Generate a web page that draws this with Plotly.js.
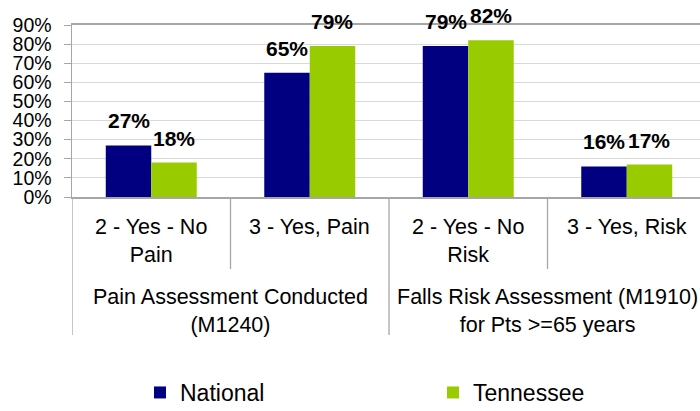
<!DOCTYPE html>
<html>
<head>
<meta charset="utf-8">
<script src="https://cdn.plot.ly/plotly-3.0.1.min.js"></script>
<style>html,body{margin:0;padding:0;background:#fff;overflow:hidden;}</style>
</head>
<body>
<div id="chart" style="width:700px;height:411px;"></div>
<script>
// ---- data ----
var groups = ["Pain Assessment Conducted<br>(M1240)", "Falls Risk Assessment (M1910)<br>for Pts >=65 years"];
var categories = ["2 - Yes - No<br>Pain", "3 - Yes, Pain", "2 - Yes - No<br>Risk", "3 - Yes, Risk"];
var groupOfCategory = [0, 0, 1, 1];
var seriesNames = ["National", "Tennessee"];
var national = [27, 65, 79, 16];
var tennessee = [18, 79, 82, 17];
var yTicks = [0, 10, 20, 30, 40, 50, 60, 70, 80, 90];

// ---- styles ----
var FONT = "'Liberation Sans', Arimo, Arial, sans-serif";
var colors = ["#000080", "#99CC00"];
var bargap = 0.426;
var series = [national, tennessee];

var xIdx = categories.map(function (c, i) { return i; });

var traces = series.map(function (vals, s) {
  return {
    type: "bar",
    name: seriesNames[s],
    x: xIdx,
    y: vals,
    marker: { color: colors[s] },
    hoverinfo: "skip"
  };
});

var annotations = [];
var barW = (1 - bargap) / series.length;
series.forEach(function (vals, s) {
  vals.forEach(function (v, i) {
    annotations.push({
      xref: "x", yref: "y",
      x: i + (s - (series.length - 1) / 2) * barW,
      y: v,
      text: "<b>" + v + "%</b>",
      showarrow: false,
      yanchor: "bottom",
      yshift: 11,
      font: { family: FONT, size: 21, color: "#000" }
    });
  });
});
// inner category labels
categories.forEach(function (c, i) {
  annotations.push({
    xref: "x", yref: "paper", x: i, y: 0, yanchor: "top", yshift: -16,
    text: c, showarrow: false, align: "center",
    font: { family: FONT, size: 21.5, color: "#000" }
  });
});
// outer group labels
groups.forEach(function (g, gi) {
  var idx = [];
  groupOfCategory.forEach(function (gg, i) { if (gg === gi) idx.push(i); });
  var center = (idx[0] + idx[idx.length - 1]) / 2;
  annotations.push({
    xref: "x", yref: "paper", x: center, y: 0, yanchor: "top", yshift: -86,
    text: g, showarrow: false, align: "center",
    font: { family: FONT, size: 21.5, color: "#000" }
  });
});

// separators
var shapes = [];
for (var i = 0; i < categories.length; i++) {
  var left = i - 0.5;
  var isGroupStart = (i === 0) || (groupOfCategory[i] !== groupOfCategory[i - 1]);
  shapes.push({
    type: "line", xref: "x", yref: "paper", ysizemode: "pixel", yanchor: 0,
    x0: left, x1: left, y0: 0, y1: isGroupStart ? -138 : -72,
    line: { color: "#a6a6a6", width: 1.3 }
  });
}

var layout = {
  width: 700, height: 411,
  margin: { l: 72, r: 0, t: 25, b: 214, pad: 0 },
  paper_bgcolor: "#fff", plot_bgcolor: "#fff",
  barmode: "group", bargap: bargap, bargroupgap: 0,
  showlegend: true,
  legend: {
    orientation: "h", xref: "container", yref: "container",
    x: 0.2, y: 0.045, xanchor: "left", yanchor: "middle",
    entrywidth: 248, entrywidthmode: "pixels",
    font: { family: FONT, size: 23, color: "#000" },
    bgcolor: "rgba(0,0,0,0)", traceorder: "normal"
  },
  xaxis: {
    type: "linear", range: [-0.5, categories.length - 0.5 - 6 / 158.5],
    showticklabels: false, showgrid: false, zeroline: false, ticks: "",
    showline: true, mirror: true, linecolor: "#a6a6a6", linewidth: 2, fixedrange: true
  },
  yaxis: {
    range: [0, 90], tickvals: yTicks, ticktext: yTicks.map(function (t) { return t + "%"; }),
    showgrid: true, gridcolor: "#d9d9d9", gridwidth: 1,
    zeroline: false, showline: true, linecolor: "#a6a6a6", linewidth: 1.5,
    ticks: "outside", ticklen: 7, tickcolor: "#a6a6a6", tickwidth: 1,
    ticklabelstandoff: 8,
    tickfont: { family: FONT, size: 19.5, color: "#000" }, fixedrange: true
  },
  annotations: annotations,
  shapes: shapes,
  font: { family: FONT }
};

Plotly.newPlot("chart", traces, layout, { displayModeBar: false, staticPlot: true });
</script>
</body>
</html>
